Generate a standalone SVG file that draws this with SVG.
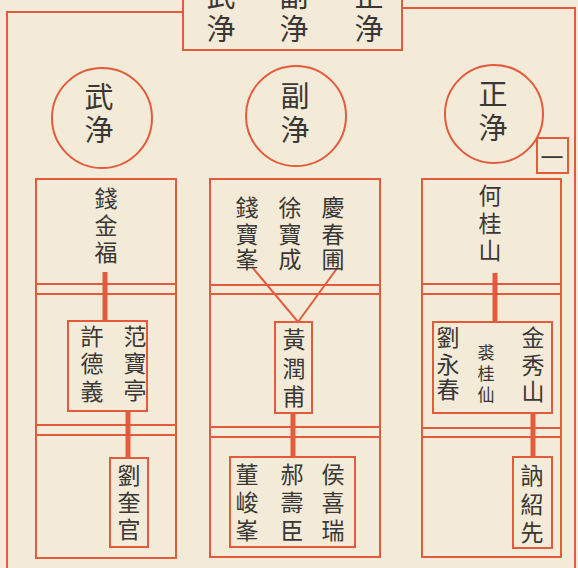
<svg xmlns="http://www.w3.org/2000/svg" width="578" height="568" viewBox="0 0 578 568">
<style>
.ln{fill:none;stroke:#e35b3c;stroke-width:2}
.thk{fill:none;stroke:#e35b3c;stroke-width:5}
text{font-family:"Noto Sans CJK TC","Noto Sans CJK SC",sans-serif;fill:#3a3836;text-anchor:middle;dominant-baseline:central}
.t30{font-size:29px}
.t24{font-size:23px}
.t18{font-size:17px}
</style>
<rect x="0" y="0" width="578" height="568" fill="#f3ead7"/>
<g id="frame">
<path class="ln" d="M183,12 L7,12 L7,572"/>
<path class="ln" d="M402,8 L575,8 L575,572"/>
</g>
<g id="title">
<path class="ln" d="M183,-5 L183,50 L402,50 L402,-5"/>
<text class="t30"><tspan x="221" y="-6">武</tspan><tspan x="221" y="27">浄</tspan></text>
<text class="t30"><tspan x="294" y="-6">副</tspan><tspan x="294" y="27">浄</tspan></text>
<text class="t30"><tspan x="369" y="-6">正</tspan><tspan x="369" y="27">浄</tspan></text>
</g>
<g id="c-wu">
<circle class="ln" cx="102" cy="118" r="50"/>
<text class="t30"><tspan x="99" y="95">武</tspan><tspan x="99" y="128">浄</tspan></text>
</g>
<g id="c-fu">
<circle class="ln" cx="296" cy="116" r="50"/>
<text class="t30"><tspan x="295" y="94">副</tspan><tspan x="295" y="128">浄</tspan></text>
</g>
<g id="c-zheng">
<circle class="ln" cx="494" cy="114" r="49"/>
<text class="t30"><tspan x="493" y="92">正</tspan><tspan x="493" y="126">浄</tspan></text>
</g>
<g id="page-no">
<rect class="ln" x="537" y="138" width="31" height="35"/>
<text class="t24" x="552" y="156">一</text>
</g>
<g id="col-left">
<rect class="ln" x="36" y="179" width="140" height="379"/>
<path class="ln" d="M36,284H176M36,294H176M36,425H176M36,435H176"/>
</g>
<g id="col-mid">
<rect class="ln" x="210" y="179" width="170" height="378"/>
<path class="ln" d="M210,285H380M210,294H380M210,427H380M210,437H380"/>
</g>
<g id="col-right">
<rect class="ln" x="422" y="179" width="139" height="378"/>
<path class="ln" d="M422,284H561M422,294H561M422,428H561M422,437H561"/>
</g>
<g id="connectors">
<line class="thk" x1="105" y1="272" x2="105" y2="321"/>
<line class="thk" x1="128" y1="411" x2="128" y2="458"/>
<path class="ln" d="M252,267L298,322L338,267"/>
<line class="thk" x1="293" y1="413" x2="293" y2="457"/>
<line class="thk" x1="495" y1="273" x2="495" y2="322"/>
<line class="thk" x1="533" y1="413" x2="533" y2="457"/>
</g>
<g id="n-qianjinfu">
<text class="t24"><tspan x="106" y="197">錢</tspan><tspan x="106" y="224">金</tspan><tspan x="106" y="251">福</tspan></text>
</g>
<g id="n-fan-xu">
<rect class="ln" x="68" y="321" width="79" height="90" fill="#f3ead7"/>
<text class="t24"><tspan x="92" y="335">許</tspan><tspan x="92" y="362">德</tspan><tspan x="92" y="390">義</tspan></text>
<text class="t24"><tspan x="135" y="335">范</tspan><tspan x="135" y="362">寶</tspan><tspan x="135" y="389">亭</tspan></text>
</g>
<g id="n-liukuiguan">
<rect class="ln" x="110" y="458" width="38" height="89" fill="#f3ead7"/>
<text class="t24"><tspan x="129" y="474">劉</tspan><tspan x="129" y="501">奎</tspan><tspan x="129" y="528">官</tspan></text>
</g>
<g id="n-mid-top">
<text class="t24"><tspan x="247" y="206">錢</tspan><tspan x="247" y="233">寶</tspan><tspan x="247" y="258">峯</tspan></text>
<text class="t24"><tspan x="290" y="206">徐</tspan><tspan x="290" y="233">寶</tspan><tspan x="290" y="258">成</tspan></text>
<text class="t24"><tspan x="333" y="206">慶</tspan><tspan x="333" y="233">春</tspan><tspan x="333" y="258">圃</tspan></text>
</g>
<g id="n-huangrunfu">
<rect class="ln" x="275" y="322" width="37" height="91" fill="#f3ead7"/>
<text class="t24"><tspan x="294" y="338">黃</tspan><tspan x="294" y="367">潤</tspan><tspan x="294" y="395">甫</tspan></text>
</g>
<g id="n-mid-bottom">
<rect class="ln" x="230" y="457" width="125" height="90" fill="#f3ead7"/>
<text class="t24"><tspan x="247" y="473">董</tspan><tspan x="247" y="501">峻</tspan><tspan x="247" y="529">峯</tspan></text>
<text class="t24"><tspan x="292" y="473">郝</tspan><tspan x="292" y="501">壽</tspan><tspan x="292" y="529">臣</tspan></text>
<text class="t24"><tspan x="333" y="473">侯</tspan><tspan x="333" y="501">喜</tspan><tspan x="333" y="529">瑞</tspan></text>
</g>
<g id="n-heguishan">
<text class="t24"><tspan x="490" y="194">何</tspan><tspan x="490" y="222">桂</tspan><tspan x="490" y="249">山</tspan></text>
</g>
<g id="n-right-mid">
<rect class="ln" x="433" y="322" width="119" height="91" fill="#f3ead7"/>
<text class="t24"><tspan x="448" y="336">劉</tspan><tspan x="448" y="363">永</tspan><tspan x="448" y="388">春</tspan></text>
<text class="t18"><tspan x="486" y="351">裘</tspan><tspan x="486" y="372">桂</tspan><tspan x="486" y="393">仙</tspan></text>
<text class="t24"><tspan x="533" y="336">金</tspan><tspan x="533" y="364">秀</tspan><tspan x="533" y="390">山</tspan></text>
</g>
<g id="n-neshaoxian">
<rect class="ln" x="513" y="457" width="39" height="91" fill="#f3ead7"/>
<text class="t24"><tspan x="532" y="474">訥</tspan><tspan x="532" y="503">紹</tspan><tspan x="532" y="531">先</tspan></text>
</g>
</svg>
